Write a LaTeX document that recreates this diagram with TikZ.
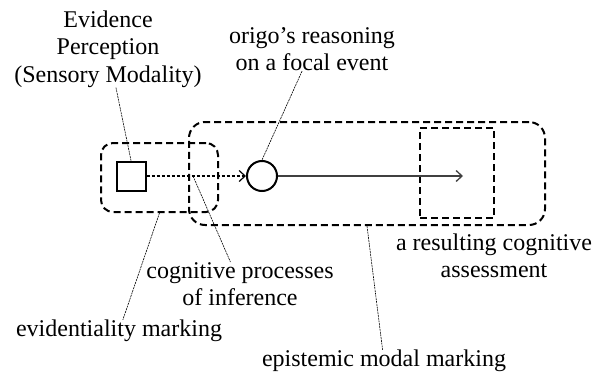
\documentclass[tikz,border=0pt]{standalone}
\usepackage{fontspec}
\setmainfont{Liberation Serif}
\usetikzlibrary{arrows.meta}

\begin{document}
\begin{tikzpicture}[x=1pt, y=-1pt,
		every node/.style={font=\fontsize{24}{27.5}\selectfont, inner sep=0pt, align=center},
		mark box/.style={draw, rectangle, rounded corners=12pt, line width=2pt, dash pattern=on 7pt off 4pt},
		leader/.style={line width=0.6pt, dash pattern=on 2pt off 0.8pt},
		tip/.style={-{Straight Barb[length=6pt, width=11pt]}}]
		\useasboundingbox (0,0) rectangle (592,375);

		\node (evbox)[mark box, minimum width=117pt, minimum height=69pt] at (159.5,177.5) {};
		\node (epbox)[mark box, minimum width=356pt, minimum height=103pt, rounded corners=16pt] at (367,173.5) {};
		\node (asbox)[mark box, rounded corners=0pt, minimum width=74pt, minimum height=90pt] at (457,173) {};

		\node (sq)[draw, rectangle, line width=2pt, minimum size=29pt] at (131,176) {};
		\node (circ)[draw, circle, line width=2pt, minimum size=30pt] at (262,176) {};
		\coordinate (end) at (463,176);
		\coordinate (infer) at (193,176);

		\node (evid)[anchor=center] at (108,49) {Evidence\\Perception\\(Sensory Modality)};
		\node (origo)[anchor=center] at (312,49) {origo’s reasoning\\on a focal event};
		\node (cog) at (240,284) {cognitive processes\\of inference};
		\node (evmark) at (119,331) {evidentiality marking};
		\node (epmark) at (384,361) {epistemic modal marking};
		\node (assess) at (494,256) {a resulting cognitive\\assessment};

		\draw [tip, line width=1.2pt, dash pattern=on 3pt off 2pt](sq)--(circ);
		\draw [tip, line width=1.3pt, black!75](circ)--(end);

		\draw [leader](evid)edge(sq.north);
		\draw [leader](origo)edge(circ.north);
		\draw [leader](infer)edge(cog);
		\draw [leader](evbox.south)edge(evmark);
		\draw [leader](epbox.south)edge(epmark);
	\end{tikzpicture}
\end{document}
